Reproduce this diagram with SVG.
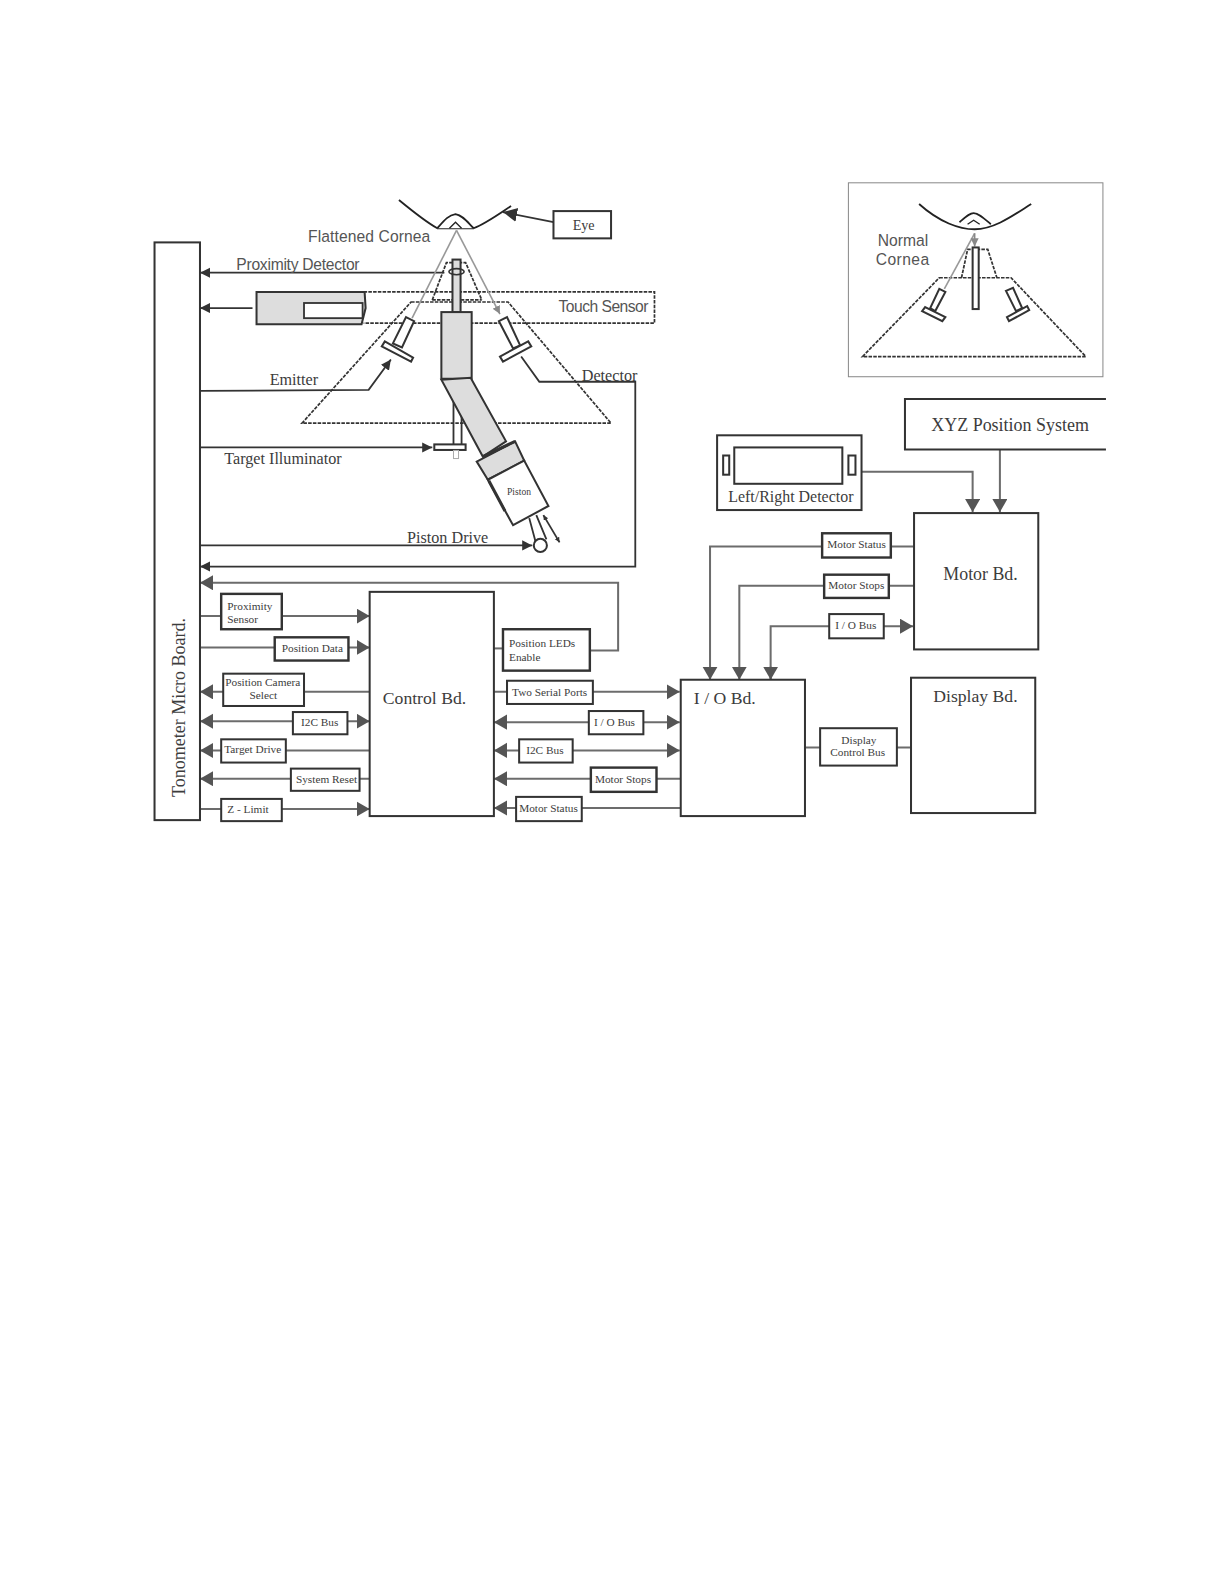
<svg xmlns="http://www.w3.org/2000/svg" width="1224" height="1584" viewBox="0 0 1224 1584">
<style>
.b{fill:#fff;stroke:#333;stroke-width:2}
.t{fill:#fff;stroke:#333;stroke-width:2.4}
.g{fill:#ddd;stroke:#333;stroke-width:2}
.s{font-family:"Liberation Serif","Times New Roman",serif;fill:#3c3c3c}
.a{font-family:"Liberation Sans",Arial,sans-serif;fill:#555}
.c{fill:none;stroke:#6c6c6c;stroke-width:2}
.d{fill:none;stroke:#333;stroke-width:1.8}
.y{fill:none;stroke:#333;stroke-width:1.7;stroke-dasharray:3.5 1.2}
.m{font-size:11.200px}
</style>
<defs>
<marker id="ag" markerUnits="userSpaceOnUse" markerWidth="14" markerHeight="16" refX="13" refY="7.5" orient="auto-start-reverse"><path d="M0 0L13 7.5L0 15Z" fill="#555"/></marker>
<marker id="ak" markerUnits="userSpaceOnUse" markerWidth="12" markerHeight="12" refX="10" refY="5" orient="auto-start-reverse"><path d="M0 0L10 5L0 10Z" fill="#333"/></marker>
<marker id="as" markerUnits="userSpaceOnUse" markerWidth="7" markerHeight="7" refX="5" refY="2.5" orient="auto-start-reverse"><path d="M0 0L5 2.5L0 5Z" fill="#333"/></marker>
<marker id="al" markerUnits="userSpaceOnUse" markerWidth="9" markerHeight="9" refX="8" refY="4" orient="auto-start-reverse"><path d="M0 0L8 4L0 8Z" fill="#888"/></marker>
<marker id="ab" markerUnits="userSpaceOnUse" markerWidth="16" markerHeight="16" refX="14" refY="7" orient="auto-start-reverse"><path d="M0 0L14 7L0 14Z" fill="#333"/></marker>
</defs>
<g transform="scale(1.01)">
<g id="connectors">
<path class="d" d="M198 270H440" marker-start="url(#ak)"/>
<path class="d" d="M198 305H250" marker-start="url(#ak)"/>
<path class="d" d="M198 387L365 386L387 356" marker-end="url(#ak)"/>
<path class="d" d="M198 443H428" marker-end="url(#ak)"/>
<path class="d" d="M198 540H527" marker-end="url(#ak)"/>
<path class="d" d="M198 561H629V378H534L516 353" marker-start="url(#ak)"/>
<path class="d" d="M548 220L498 210" marker-end="url(#ab)"/>
<path class="d" stroke-width="1.2" d="M538 510L554 537" marker-start="url(#as)" marker-end="url(#as)"/>
<path class="c" d="M198 577H612V644H584" marker-start="url(#ag)"/>
<path class="c" d="M498 642H489"/>
<path class="c" d="M198 610H366" marker-end="url(#ag)"/>
<path class="c" d="M198 641H366" marker-end="url(#ag)"/>
<path class="c" d="M198 685H366" marker-start="url(#ag)"/>
<path class="c" d="M198 714H366" marker-start="url(#ag)" marker-end="url(#ag)"/>
<path class="c" d="M198 743H366" marker-start="url(#ag)"/>
<path class="c" d="M198 771H366" marker-start="url(#ag)"/>
<path class="c" d="M198 801H366" marker-end="url(#ag)"/>
<path class="c" d="M489 685H673" marker-end="url(#ag)"/>
<path class="c" d="M489 715H673" marker-start="url(#ag)" marker-end="url(#ag)"/>
<path class="c" d="M489 743H673" marker-start="url(#ag)" marker-end="url(#ag)"/>
<path class="c" d="M489 771H674" marker-start="url(#ag)"/>
<path class="c" d="M489 800H674" marker-start="url(#ag)"/>
<path class="c" d="M905 541H703V673" marker-end="url(#ag)"/>
<path class="c" d="M905 580H732V673" marker-end="url(#ag)"/>
<path class="c" d="M763 673V620H904" marker-end="url(#ag)"/>
<path class="c" d="M763 660V673" marker-end="url(#ag)"/>
<path class="c" d="M853 467H963V507" marker-end="url(#ag)"/>
<path class="c" d="M990 445V507" marker-end="url(#ag)"/>
<path class="c" d="M797 740H902"/>
</g>
<g id="tonometer"><rect class="b" x="153" y="240" width="45" height="572"/><text class="s" font-size="17.800" transform="translate(183,789) rotate(-90)">Tonometer Micro Board.</text></g>
<g id="eye-assembly">
<path class="y" d="M360 289H648V320H360"/>
<path class="y" d="M407 299H503L605 419H299Z"/>
<path class="y" d="M428 297L442 260H461L477 297"/>
<path class="y" stroke-width="2" d="M428 297H477"/>
<path d="M395 198C412 212 424 221 433 226H469C480 222 494 212 506 204" fill="none" stroke="#222" stroke-width="1.8"/>
<path d="M433 226C440 218 444 213 451 212C458 213 463 220 469 226" fill="#fff" stroke="#222" stroke-width="1.8"/>
<path d="M445 226L451 220L457 226" fill="none" stroke="#222" stroke-width="1.3"/>
<rect class="g" x="448" y="257" width="8" height="52"/>
<ellipse cx="452" cy="269" rx="7.500" ry="3" fill="none" stroke="#333" stroke-width="1.6"/>
<path d="M452 228L408 315" fill="none" stroke="#999" stroke-width="1.6"/>
<path d="M452 228L495 311" fill="none" stroke="#999" stroke-width="1.6" marker-end="url(#al)"/>
<path class="g" d="M254 289H361L362 305L358 321H254Z"/>
<rect x="301" y="300" width="58" height="15" fill="#fff" stroke="#333" stroke-width="1.8"/>
<path class="b" d="M402 314L410 318L398 344L389 340Z"/>
<path class="b" d="M381 338L409 354L407 358L378 343Z"/>
<path class="b" d="M494 318L502 314L515 342L508 345Z"/>
<path class="b" d="M495 353L523 338L526 343L498 358Z"/>
<rect class="g" x="437" y="309" width="30" height="66"/>
<path class="d" d="M449 376V442M457 390V442"/>
<path class="g" d="M437 376L466 374L501 437L478 452Z"/>
<rect class="b" stroke-width="1.6" x="430" y="440" width="31" height="5.500"/>
<rect x="449" y="446" width="5" height="8" fill="#fff" stroke="#aaa" stroke-width="1"/>
<path class="g" d="M472 457L510 437L519 456L483 475Z"/>
<path class="b" d="M483 475L519 456L543 501L508 520Z"/>
<path d="M478 452L510 437" fill="none" stroke="#333" stroke-width="3"/>
<path d="M484 476L500 506" fill="none" stroke="#333" stroke-width="3"/>
<path class="d" d="M524 513L531 539M531 510L541 534"/>
<circle class="b" cx="535" cy="540" r="6.500"/>
<text class="s" font-size="9.500" x="502" y="490">Piston</text>
</g>
<g id="eye-node"><rect class="b" x="548" y="209" width="57" height="27"/><text class="s" font-size="14" x="567" y="228">Eye</text></g>
<g id="labels-top">
<text class="a" font-size="15.500" x="305" y="240" textLength="121">Flattened Cornea</text>
<text class="a" font-size="15.500" x="234" y="267" textLength="122">Proximity Detector</text>
<text class="a" font-size="15.500" x="553" y="309" textLength="89">Touch Sensor</text>
<text class="s" font-size="16" x="267" y="381">Emitter</text>
<text class="s" font-size="16" x="576" y="377">Detector</text>
<text class="s" font-size="16" x="222" y="459">Target Illuminator</text>
<text class="s" font-size="16" x="403" y="538">Piston Drive</text>
</g>
<g id="normal-cornea">
<rect x="840" y="181" width="252" height="192" fill="none" stroke="#888" stroke-width="1"/>
<path class="y" d="M930 275H1001L1075 353H854Z"/>
<path class="y" d="M952 275L958 247H978L987 275"/>
<path d="M910 202C930 220 950 227 965 227C985 227 1005 212 1021 202" fill="none" stroke="#222" stroke-width="1.8"/>
<path d="M950 220C957 214 960 211 964 211C969 211 974 216 981 222" fill="none" stroke="#222" stroke-width="1.8"/>
<path d="M958 222L964 218L970 222" fill="none" stroke="#222" stroke-width="1.3"/>
<path d="M965 231L935 286" fill="none" stroke="#999" stroke-width="1.6"/>
<path d="M965 231V244" fill="none" stroke="#888" stroke-width="1.6" marker-end="url(#al)"/>
<rect class="b" stroke-width="1.6" x="963" y="245" width="6" height="61"/>
<path class="b" stroke-width="1.6" d="M930 286L936 289L926 308L921 305Z"/>
<path class="b" stroke-width="1.6" d="M916 304L936 314L933 318L913 308Z"/>
<path class="b" stroke-width="1.6" d="M996 288L1003 285L1012 305L1006 308Z"/>
<path class="b" stroke-width="1.6" d="M997 314L1017 303L1019 307L999 318Z"/>
<text class="a" font-size="15.500" x="869" y="244" textLength="50">Normal</text>
<text class="a" font-size="15.500" x="867" y="262" textLength="53">Cornea</text>
</g>
<g id="control"><rect class="b" x="366" y="586" width="123" height="222"/><text class="s" font-size="17.500" x="379" y="697">Control Bd.</text></g>
<g id="io"><rect class="b" x="674" y="673" width="123" height="135"/><text class="s" font-size="17.500" x="687" y="697">I / O Bd.</text></g>
<g id="motor"><rect class="b" x="905" y="508" width="123" height="135"/><text class="s" font-size="17.700" x="934" y="574">Motor Bd.</text></g>
<g id="display"><rect class="b" x="902" y="671" width="123" height="134"/><text class="s" font-size="17.500" x="924" y="695">Display Bd.</text></g>
<g id="xyz"><path fill="#fff" stroke="#333" stroke-width="2" d="M1095 395H896V445H1095"/><text class="s" font-size="17.800" x="922" y="427">XYZ Position System</text></g>
<g id="lr-detector"><rect class="b" x="710" y="431" width="143" height="74"/><rect class="b" x="727" y="443" width="107" height="36"/><rect class="b" x="716" y="451" width="6" height="19"/><rect class="b" x="840" y="451" width="7" height="19"/><text class="s" font-size="15.800" x="721" y="497">Left/Right Detector</text></g>
<g id="n1"><rect class="t" x="219" y="588" width="60" height="35"/><text class="s m" x="225" y="604">Proximity</text><text class="s m" x="225" y="617">Sensor</text></g>
<g id="n2"><rect class="t" x="272" y="631" width="73" height="23"/><text class="s m" x="279" y="646">Position Data</text></g>
<g id="n3"><rect class="b" x="221" y="667" width="80" height="32"/><text class="s m" x="223" y="679">Position Camera</text><text class="s m" x="247" y="692">Select</text></g>
<g id="n4"><rect class="b" x="290" y="705" width="54" height="22"/><text class="s m" x="298" y="719">I2C Bus</text></g>
<g id="n5"><rect class="b" x="219" y="732" width="64" height="23"/><text class="s m" x="222" y="746">Target Drive</text></g>
<g id="n6"><rect class="b" x="288" y="761" width="68" height="22"/><text class="s m" x="293" y="775">System Reset</text></g>
<g id="n7"><rect class="b" x="219" y="791" width="60" height="22"/><text class="s m" x="225" y="805">Z - Limit</text></g>
<g id="n8"><rect class="t" x="498" y="623" width="86" height="41"/><text class="s m" x="504" y="641">Position LEDs</text><text class="s m" x="504" y="654">Enable</text></g>
<g id="n9"><rect class="b" x="502" y="674" width="85" height="23"/><text class="s m" x="507" y="689">Two Serial Ports</text></g>
<g id="n10"><rect class="b" x="583" y="704" width="54" height="23"/><text class="s m" x="588" y="719">I / O Bus</text></g>
<g id="n11"><rect class="b" x="514" y="732" width="53" height="23"/><text class="s m" x="521" y="747">I2C Bus</text></g>
<g id="n12"><rect class="t" x="585" y="760" width="65" height="24"/><text class="s m" x="589" y="775">Motor Stops</text></g>
<g id="n13"><rect class="b" x="511" y="789" width="65" height="24"/><text class="s m" x="514" y="804">Motor Status</text></g>
<g id="n14"><rect class="t" x="814" y="528" width="68" height="24"/><text class="s m" x="819" y="543">Motor Status</text></g>
<g id="n15"><rect class="t" x="816" y="569" width="64" height="23"/><text class="s m" x="820" y="583">Motor Stops</text></g>
<g id="n16"><rect class="b" x="821" y="608" width="54" height="24"/><text class="s m" x="827" y="623">I / O Bus</text></g>
<g id="n17"><rect class="b" x="812" y="721" width="76" height="37"/><text class="s m" x="833" y="737">Display</text><text class="s m" x="822" y="749">Control Bus</text></g>
</g>
</svg>
